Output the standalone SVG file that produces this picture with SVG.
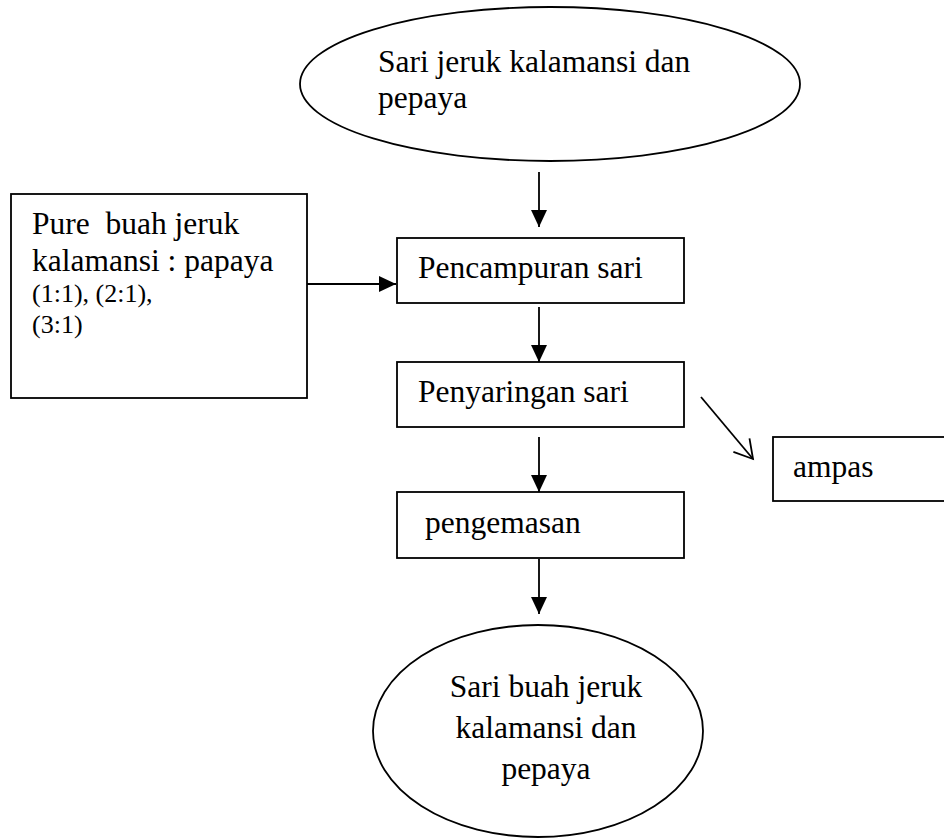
<svg xmlns="http://www.w3.org/2000/svg" width="944" height="840" viewBox="0 0 944 840">
<defs>
<style>
.s{fill:none;stroke:#000;stroke-width:1.8}
.w{fill:#fff;stroke:#000;stroke-width:1.8}
.t{font-family:"Liberation Serif","Times New Roman",serif;font-size:31.5px;fill:#000}
.sm{font-size:26px}
</style>
<marker id="ah" markerUnits="userSpaceOnUse" markerWidth="18" markerHeight="18" viewBox="0 0 18 16" refX="17" refY="8" orient="auto">
<path d="M0,0 L17,8 L0,16 Z" fill="#000"/>
</marker>
<marker id="oh" markerUnits="userSpaceOnUse" markerWidth="26" markerHeight="26" viewBox="0 0 26 26" refX="23" refY="13" orient="auto">
<path d="M5,2.5 L23,13 L5,23.5" fill="none" stroke="#000" stroke-width="1.8"/>
</marker>
</defs>
<rect width="944" height="840" fill="#fff"/>
<g id="connectors">
<line class="s" x1="539" y1="172" x2="539" y2="227" marker-end="url(#ah)"/>
<line class="s" x1="307" y1="284" x2="396" y2="284" marker-end="url(#ah)"/>
<line class="s" x1="539" y1="307" x2="539" y2="362" marker-end="url(#ah)"/>
<line class="s" x1="539" y1="437" x2="539" y2="492" marker-end="url(#ah)"/>
<line class="s" x1="539" y1="559" x2="539" y2="614" marker-end="url(#ah)"/>
<line class="s" x1="701" y1="397" x2="753" y2="459" marker-end="url(#oh)"/>
</g>
<g id="start">
<ellipse class="w" cx="550" cy="84" rx="250" ry="77"/>
<text class="t" x="378" y="72">Sari jeruk kalamansi dan</text>
<text class="t" x="378" y="108">pepaya</text>
</g>
<g id="input">
<rect class="w" x="11" y="194" width="296" height="204"/>
<text class="t" x="32" y="234" xml:space="preserve">Pure  buah jeruk</text>
<text class="t" x="32" y="271">kalamansi : papaya</text>
<text class="t sm" x="32" y="302">(1:1), (2:1),</text>
<text class="t sm" x="32" y="333">(3:1)</text>
</g>
<g id="mixing">
<rect class="w" x="397" y="238" width="287" height="65"/>
<text class="t" x="418" y="278">Pencampuran sari</text>
</g>
<g id="filtering">
<rect class="w" x="397" y="362" width="287" height="65"/>
<text class="t" x="418" y="402">Penyaringan sari</text>
</g>
<g id="ampas">
<rect class="w" x="773" y="437" width="180" height="64"/>
<text class="t" x="793" y="477">ampas</text>
</g>
<g id="packaging">
<rect class="w" x="397" y="492" width="287" height="66"/>
<text class="t" x="425" y="533">pengemasan</text>
</g>
<g id="end">
<ellipse class="w" cx="538" cy="731" rx="165" ry="106"/>
<text class="t" x="546" y="697" text-anchor="middle">Sari buah jeruk</text>
<text class="t" x="546" y="738" text-anchor="middle">kalamansi dan</text>
<text class="t" x="546" y="779" text-anchor="middle">pepaya</text>
</g>
</svg>
